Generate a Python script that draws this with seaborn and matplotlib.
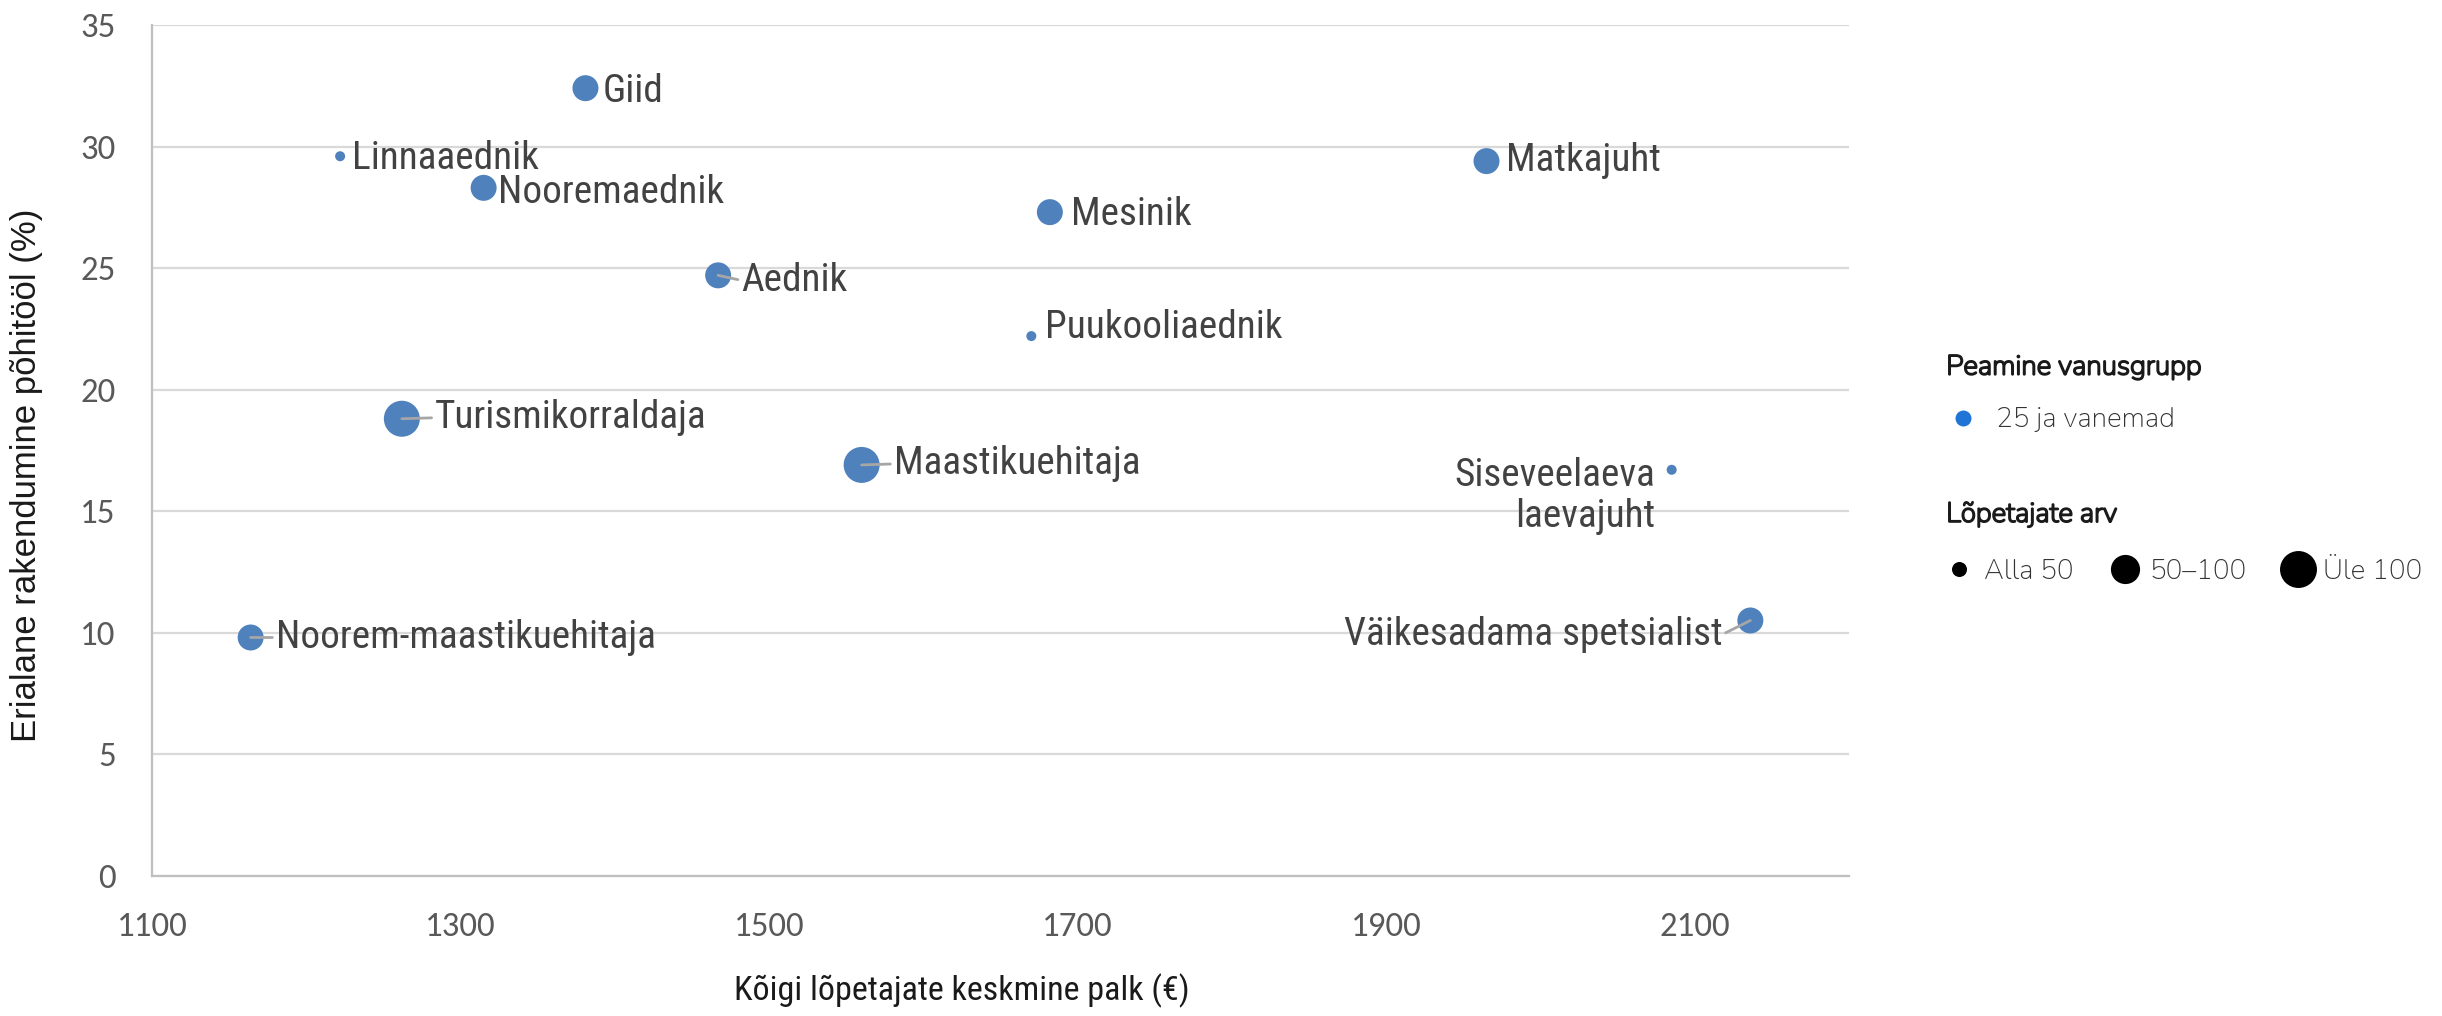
import matplotlib
matplotlib.use("Agg")
import matplotlib.pyplot as plt
import matplotlib.patheffects as pe
from matplotlib.lines import Line2D
import seaborn as sns
import pandas as pd

# ---------------- data ----------------
occupations = ["Giid", "Linnaaednik", "Nooremaednik", "Aednik", "Mesinik", "Matkajuht",
               "Puukooliaednik", "Turismikorraldaja", "Maastikuehitaja",
               "Siseveelaeva\nlaevajuht", "Noorem-maastikuehitaja", "Väikesadama spetsialist"]
salary = [1381, 1222, 1315, 1467, 1682, 1965, 1670, 1262, 1560, 2085, 1164, 2136]
employment = [32.4, 29.6, 28.3, 24.7, 27.3, 29.4, 22.2, 18.8, 16.9, 16.7, 9.8, 10.5]
graduates = ["50–100", "Alla 50", "50–100", "50–100", "50–100", "50–100",
             "Alla 50", "Üle 100", "Üle 100", "Alla 50", "50–100", "50–100"]
age_group = ["25 ja vanemad"] * 12

size_categories = ["Alla 50", "50–100", "Üle 100"]
x_ticks = [1100, 1300, 1500, 1700, 1900, 2100]
y_ticks = [0, 5, 10, 15, 20, 25, 30, 35]

x_label = "Kõigi lõpetajate keskmine palk (€)"
y_label = "Erialane rakendumine põhitööl (%)"
legend1_title = "Peamine vanusgrupp"
legend2_title = "Lõpetajate arv"

# label placement (offset pixels, alignment) – styling only
label_style = {
    "Giid": (17, -3, "left"),
    "Linnaaednik": (12, -2, "left"),
    "Nooremaednik": (14, -5, "left"),
    "Aednik": (23, -5, "left"),
    "Mesinik": (21, -2, "left"),
    "Matkajuht": (19, 1, "left"),
    "Puukooliaednik": (14, 9, "left"),
    "Turismikorraldaja": (33, 1, "left"),
    "Maastikuehitaja": (32, 1, "left"),
    "Siseveelaeva\nlaevajuht": (-16, -26, "right"),
    "Noorem-maastikuehitaja": (25, 0, "left"),
    "Väikesadama spetsialist": (-28, -14, "right"),
}
leader = {"Aednik", "Turismikorraldaja", "Maastikuehitaja", "Noorem-maastikuehitaja",
          "Väikesadama spetsialist"}

df = pd.DataFrame({"amet": occupations, "palk": salary, "rakendumine": employment,
                   "lopetajad": graduates, "vanusgrupp": age_group})

# ---------------- style ----------------
sns.set_theme(style="white")
plt.rcParams["font.family"] = ["Liberation Sans", "DejaVu Sans"]

NARROW = ["Roboto Condensed", "Liberation Sans", "DejaVu Sans"]
POINT = "#4F81BD"
fig = plt.figure(figsize=(24.42, 10.16), dpi=100)
ax = fig.add_axes([0.0622, 0.1381, 0.6950, 0.8373])

sns.scatterplot(data=df, x="palk", y="rakendumine", hue="vanusgrupp", size="lopetajad",
                sizes={"Alla 50": 52, "50–100": 350, "Üle 100": 672},
                size_order=size_categories, palette={"25 ja vanemad": POINT},
                linewidth=0, legend=False, ax=ax, zorder=3)

ax.set_xlim(1100, 2200)
ax.set_ylim(0, 35)
ax.set_xticks(x_ticks)
ax.set_yticks(y_ticks)
ax.yaxis.grid(True, color="#d9d9d9", lw=1.6, zorder=0)
ax.xaxis.grid(False)
ax.set_axisbelow(True)
for s in ["top", "right"]:
    ax.spines[s].set_visible(False)
for s in ["left", "bottom"]:
    ax.spines[s].set_color("#bfbfbf")
    ax.spines[s].set_linewidth(1.6)
ax.tick_params(axis="both", length=0, pad=26, labelsize=25, labelcolor="#595959")
for t in ax.get_xticklabels() + ax.get_yticklabels():
    t.set_family(["Carlito", "Lato", "DejaVu Sans"])

ax.set_xlabel(x_label, fontsize=24.5, color="#1a1a1a", family=NARROW)
ax.xaxis.set_label_coords(0.477, -0.115)
ax.set_ylabel(y_label, fontsize=25, color="#1a1a1a", family=["Liberation Sans", "DejaVu Sans"])
ax.yaxis.set_label_coords(-0.064, 0.471)

for _, r in df.iterrows():
    dx, dy, ha = label_style[r["amet"]]
    arrow = None
    if r["amet"] in leader:
        arrow = dict(arrowstyle="-", color="#a6a6a6", lw=2, shrinkA=0, shrinkB=0,
                     relpos=(0, 0.5) if ha == "left" else (1, 0.5))
    ax.annotate(r["amet"], xy=(r["palk"], r["rakendumine"]), xytext=(dx, dy),
                textcoords="offset pixels", ha=ha, va="center", multialignment=ha,
                fontsize=28.3, color="#424242", linespacing=1.15,
                family=NARROW, arrowprops=arrow, zorder=4)

# ---------------- legends ----------------
lfont = {"family": ["Nunito", "Lato", "DejaVu Sans"], "size": 20}
tfont = {"family": ["Nunito", "Lato", "DejaVu Sans"], "size": 20, "weight": "bold"}
bold_fx = [pe.withStroke(linewidth=1.3, foreground="#1a1a1a")]

h1 = [Line2D([], [], marker="o", ls="", color="#1f74d6", markersize=11.5, markeredgewidth=0)]
leg1 = fig.legend(h1, [age_group[0]], title=legend1_title, loc="upper left",
                  bbox_to_anchor=(0.797, 0.651), frameon=False, alignment="left",
                  prop=lfont, title_fontproperties=tfont, borderpad=0, borderaxespad=0,
                  handlelength=1.22, handletextpad=0.58, labelspacing=1.0,
                  labelcolor="#333333")
leg1.get_title().set_color("#1a1a1a")
leg1.get_title().set_path_effects(bold_fx)

msz = {"Alla 50": 10.8, "50–100": 21, "Üle 100": 26.6}
h2 = [Line2D([], [], marker="o", ls="", color="black", markersize=msz[c], markeredgewidth=0)
      for c in size_categories]
leg2 = fig.legend(h2, size_categories, title=legend2_title, loc="upper left",
                  bbox_to_anchor=(0.797, 0.506), frameon=False, alignment="left",
                  prop=lfont, title_fontproperties=tfont, borderpad=0, borderaxespad=0,
                  ncol=3, handlelength=0.9, handletextpad=0.45, columnspacing=1.4,
                  labelspacing=1.15, labelcolor="#333333")
leg2.get_title().set_color("#1a1a1a")
leg2.get_title().set_path_effects(bold_fx)

fig.savefig("out.png", dpi=100)
